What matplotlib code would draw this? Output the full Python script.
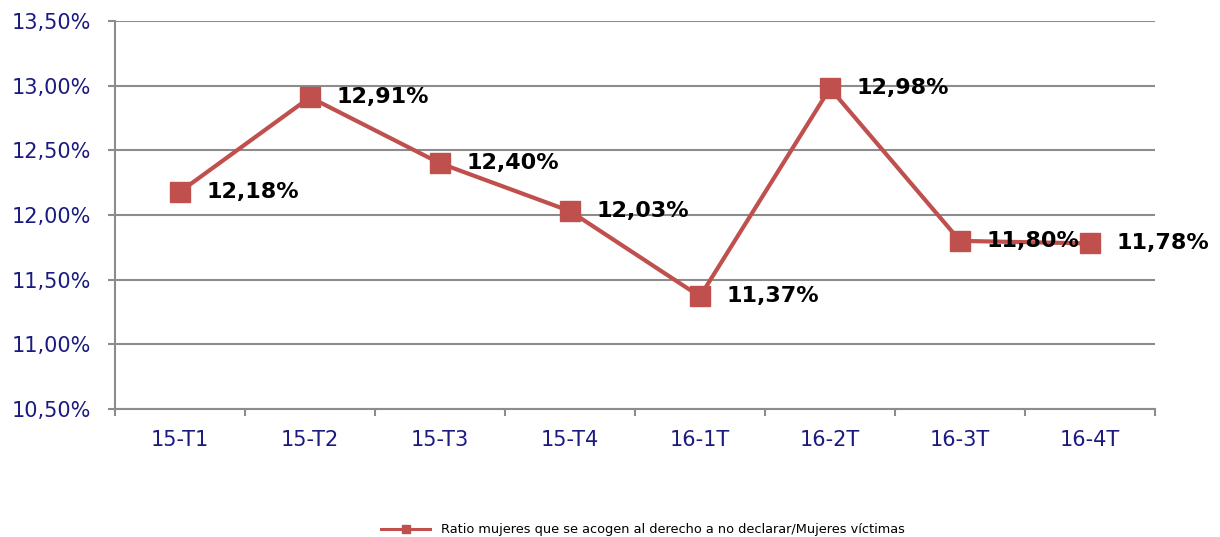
import matplotlib.pyplot as plt
from matplotlib.ticker import FuncFormatter

quarters = ['15-T1', '15-T2', '15-T3', '15-T4', '16-1T', '16-2T', '16-3T', '16-4T']
ratio = [12.18, 12.91, 12.40, 12.03, 11.37, 12.98, 11.80, 11.78]
y_ticks = [10.5, 11.0, 11.5, 12.0, 12.5, 13.0, 13.5]
series_name = 'Ratio mujeres que se acogen al derecho a no declarar/Mujeres víctimas'

red = '#C0504D'
grey = '#8C8C8C'
navy = '#1A1A80'

plt.rcParams['font.family'] = ['DejaVu Sans']

fig = plt.figure(figsize=(12.2, 5.37), dpi=100)
ax = fig.add_axes([115 / 1220, 1 - 409 / 537, 1040 / 1220, 388 / 537])

x = list(range(len(quarters)))
ax.plot(x, ratio, color=red, lw=3, marker='s', markersize=14,
        markerfacecolor=red, markeredgecolor=red, label=series_name, zorder=3)

# value labels to the right of each point
for xi, v in zip(x, ratio):
    ax.annotate(f'{v:.2f}%'.replace('.', ','), (xi, v), xytext=(19, 0),
                textcoords='offset points', ha='left', va='center',
                fontsize=16, fontweight='bold', color='black', zorder=4)

ax.set_xlim(-0.5, len(quarters) - 0.5)
ax.set_ylim(10.5, 13.5)
ax.set_yticks(y_ticks)
ax.yaxis.set_major_formatter(FuncFormatter(lambda v, p: f'{v:.2f}%'.replace('.', ',')))
ax.set_xticks(x)
ax.set_xticklabels(quarters)
ax.set_xticks([i - 0.5 for i in range(len(quarters) + 1)], minor=True)

ax.grid(axis='y', color=grey, lw=1.5)
ax.set_axisbelow(True)
for side in ['top', 'right']:
    ax.spines[side].set_visible(False)
for side in ['left', 'bottom']:
    ax.spines[side].set_color(grey)
    ax.spines[side].set_linewidth(1.5)

ax.tick_params(axis='y', colors=grey, labelcolor=navy, labelsize=15, length=5, width=1.5, pad=12)
ax.tick_params(axis='x', which='major', length=0, labelcolor=navy, labelsize=15, pad=15)
ax.tick_params(axis='x', which='minor', length=5, width=1.5, color=grey)

fig.legend(loc='center', bbox_to_anchor=(0.527, 1 - 530 / 537), frameon=False,
           fontsize=9.3, handlelength=3.8, markerscale=0.45)
for h in fig.legends[0].legend_handles:
    h.set_linewidth(2.2)

fig.savefig('out.png', dpi=100)
